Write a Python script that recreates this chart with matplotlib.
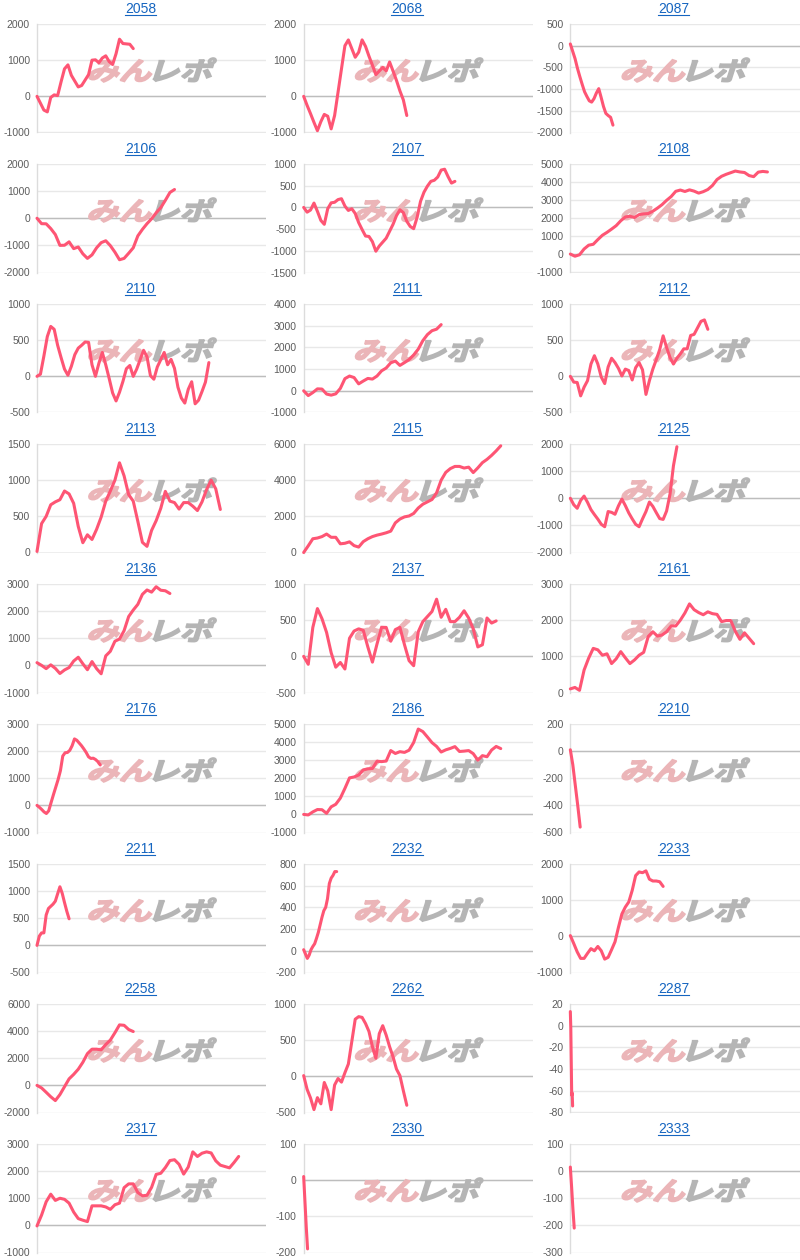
import numpy as np
import matplotlib
matplotlib.use("Agg")
import matplotlib.pyplot as plt
from matplotlib.font_manager import FontProperties
from matplotlib.textpath import TextPath
from matplotlib.patches import PathPatch
from matplotlib.transforms import Affine2D
from matplotlib.lines import Line2D

# --- datos: codigo, extension en x (% del ancho), valores, eje y (min, max, paso)
codes = ["2058", "2068", "2087", "2106", "2107", "2108", "2110", "2111", "2112",
         "2113", "2115", "2125", "2136", "2137", "2161", "2176", "2186", "2210",
         "2211", "2232", "2233", "2258", "2262", "2287", "2317", "2330", "2333"]

spans = [42, 45, 18.6, 60, 66, 86, 75, 60, 60,
         80, 86, 46.5, 58, 84, 80, 27.6, 86, 4.3,
         14, 14.4, 40.5, 42, 45, 1.0, 88, 1.7, 1.7]

v2058 = [0, -190, -380, -430, -30, 40, 20, 400, 760, 870, 580, 420, 260, 300, 450,
         600, 1000, 1010, 930, 1060, 1120, 960, 880, 1180, 1580, 1460, 1450, 1440, 1320]
v2068 = [0, -250, -480, -720, -950, -700, -500, -550, -900, -530, 115, 760, 1400, 1560,
         1320, 1080, 1220, 1560, 1380, 1110, 860, 600, 700, 800, 700, 950, 700, 440,
         150, -100, -530]
v2087 = [40, -130, -300, -520, -710, -890, -1060, -1170, -1270, -1300, -1220, -1090,
         -990, -1190, -1400, -1560, -1610, -1650, -1830]
v2106 = [0, -200, -205, -380, -600, -1000, -995, -870, -1120, -1060, -1310, -1480,
         -1350, -1090, -900, -830, -1010, -1250, -1530, -1480, -1290, -1090, -650,
         -410, -200, -20, 200, 390, 660, 950, 1060]
v2107 = [0, -110, -60, 100, -90, -300, -390, -30, 105, 118, 180, 200, 30, -70, -30,
         -140, -350, -510, -660, -670, -790, -1010, -890, -800, -710, -550, -390,
         -190, -55, -120, -320, -440, -490, -230, 140, 350, 490, 600, 625, 700, 860,
         880, 710, 560, 600]
v2108 = [20, -100, -20, 300, 510, 560, 820, 1060, 1220, 1400, 1590, 1860, 2070, 2110,
         2040, 2200, 2240, 2260, 2390, 2560, 2750, 2990, 3200, 3490, 3560, 3480, 3570,
         3500, 3390, 3470, 3590, 3810, 4140, 4320, 4430, 4520, 4610, 4560, 4530, 4360,
         4300, 4550, 4590, 4560]
v2110 = [0, 30, 280, 550, 690, 650, 430, 260, 100, 15, 140, 300, 390, 430, 475, 470,
         160, 0, 180, 330, 160, -30, -230, -340, -220, -70, 105, 150, 0, 100, 230, 360,
         270, 10, -40, 130, 230, 330, 160, 235, 110, -150, -300, -370, -180, -75, -380,
         -330, -210, -80, 190]
v2111 = [0, -220, -80, 90, 80, -150, -200, -140, 110, 560, 680, 610, 320, 450, 570,
         540, 680, 920, 1050, 1290, 1370, 1170, 1300, 1440, 1650, 1920, 2310, 2590,
         2770, 2840, 3050]
v2112 = [0, -80, -85, -270, -150, -60, 170, 285, 170, -10, -100, 130, 250, 190, 110, 5,
         100, 80, -50, 120, 190, 90, -250, -60, 100, 230, 370, 560, 400, 260, 170, 250,
         310, 380, 380, 565, 580, 670, 760, 780, 650]
v2113 = [15, 400, 500, 660, 700, 730, 850, 810, 680, 360, 135, 245, 180, 320, 490, 710,
         850, 1000, 1240, 1060, 800, 710, 430, 140, 85, 305, 440, 610, 845, 710, 690,
         600, 690, 690, 640, 580, 700, 870, 1000, 880, 595]
v2115 = [0, 370, 760, 800, 880, 1020, 840, 840, 480, 510, 590, 380, 300, 600, 760, 880,
         960, 1020, 1090, 1180, 1640, 1850, 1970, 2020, 2160, 2460, 2670, 2800, 2930,
         3300, 4000, 4430, 4640, 4760, 4760, 4670, 4720, 4420, 4680, 4970, 5150, 5370,
         5620, 5900]
v2125 = [0, -240, -370, -80, 80, -150, -420, -600, -770, -960, -1050, -490, -520, -590,
         -280, -30, -270, -540, -760, -960, -1050, -760, -490, -140, -300, -530, -750,
         -780, -470, 150, 1200, 1900]
v2136 = [100, 0, -120, 20, -110, -300, -170, -80, 160, 300, 60, -160, 140, -120, -310,
         350, 520, 890, 970, 1280, 1800, 2040, 2250, 2620, 2780, 2700, 2900, 2770,
         2750, 2650]
v2137 = [0, -110, 400, 660, 520, 330, 50, -150, -85, -175, 250, 350, 380, 360, 130,
         -80, 170, 400, 400, 210, 370, 400, 160, -60, -130, 340, 480, 550, 620, 790,
         540, 650, 480, 480, 540, 630, 530, 380, 130, 160, 530, 460, 490]
v2161 = [100, 140, 60, 620, 950, 1220, 1180, 1030, 1070, 800, 930, 1130, 960, 800, 900,
         1030, 1110, 1550, 1680, 1560, 1590, 1680, 1840, 1840, 2000, 2200, 2450, 2290,
         2210, 2150, 2230, 2180, 2160, 1960, 1990, 1990, 1690, 1470, 1650, 1500, 1350]
v2176 = [0, -70, -150, -240, -300, -200, 100, 390, 670, 950, 1280, 1820, 1940, 1950,
         2030, 2200, 2450, 2400, 2300, 2200, 2080, 1950, 1790, 1730, 1740, 1690, 1610,
         1490]
v2186 = [0, -30, 140, 270, 260, 60, 420, 560, 900, 1440, 2020, 2070, 2180, 2460, 2520,
         2540, 2940, 2920, 2950, 3530, 3370, 3470, 3430, 3550, 3980, 4720, 4580, 4280,
         3970, 3760, 3450, 3570, 3650, 3750, 3480, 3500, 3530, 3360, 3000, 3250, 3190,
         3560, 3760, 3640]
v2210 = [10, -100, -250, -400, -560]
v2211 = [0, 170, 230, 230, 560, 680, 720, 760, 815, 950, 1080, 960, 790, 630, 490]
v2232 = [10, -30, -70, -40, 10, 40, 65, 115, 170, 240, 310, 370, 400, 480, 620, 670,
         695, 730, 730]
v2233 = [20, -200, -430, -610, -610, -470, -340, -400, -280, -400, -630, -580, -370,
         -150, 250, 620, 810, 950, 1270, 1680, 1780, 1760, 1810, 1580, 1530, 1530, 1510,
         1380]
v2258 = [0, -190, -510, -840, -1120, -680, -100, 480, 810, 1190, 1700, 2340, 2670, 2670,
         2620, 3010, 3340, 3880, 4460, 4430, 4120, 3970]
v2262 = [10, -180, -300, -460, -295, -380, -85, -200, -460, -120, -30, -80, 50, 170, 480,
         790, 825, 815, 730, 620, 410, 250, 590, 700, 570, 410, 270, 100, 10, -200, -400]
v2287 = [13, -2, -34, -64, -62, -74]
v2317 = [-20, 380, 870, 1150, 920, 1000, 960, 820, 490, 250, 190, 140, 720, 720, 720,
         680, 590, 760, 820, 1390, 1530, 1530, 1210, 1090, 1110, 1400, 1880, 1920, 2130,
         2390, 2420, 2250, 1890, 2150, 2710, 2540, 2660, 2710, 2670, 2380, 2220, 2170,
         2120, 2320, 2540]
v2330 = [10, -60, -130, -190]
v2333 = [15, -60, -140, -210]

series = [v2058, v2068, v2087, v2106, v2107, v2108, v2110, v2111, v2112,
          v2113, v2115, v2125, v2136, v2137, v2161, v2176, v2186, v2210,
          v2211, v2232, v2233, v2258, v2262, v2287, v2317, v2330, v2333]

yaxes = [(-1000, 2000, 1000), (-1000, 2000, 1000), (-2000, 500, 500),
         (-2000, 2000, 1000), (-1500, 1000, 500), (-1000, 5000, 1000),
         (-500, 1000, 500), (-1000, 4000, 1000), (-500, 1000, 500),
         (0, 1500, 500), (0, 6000, 2000), (-2000, 2000, 1000),
         (-1000, 3000, 1000), (-500, 1000, 500), (0, 3000, 1000),
         (-1000, 3000, 1000), (-1000, 5000, 1000), (-600, 200, 200),
         (-500, 1500, 500), (-200, 800, 200), (-1000, 2000, 1000),
         (-2000, 6000, 2000), (-500, 1000, 500), (-80, 20, 20),
         (-1000, 3000, 1000), (-200, 100, 100), (-300, 100, 100)]

# --- figura
W, H = 800, 1260
PW, PH = W / 3, 140
plt.rcParams['font.family'] = ['Liberation Sans', 'DejaVu Sans']
fig = plt.figure(figsize=(W / 100, H / 100), dpi=100, facecolor='white')
px = Affine2D().scale(1 / W, 1 / H) + fig.transFigure   # pixeles, origen abajo-izq

# marca de agua
wm_font = FontProperties(family=['Noto Sans CJK JP'], weight='bold')
p_min = TextPath((0, 0), "みん", size=29, prop=wm_font)
p_rep = TextPath((0, 0), "レポ", size=29, prop=wm_font)
e1, e2 = p_min.get_extents(), p_rep.get_extents()
wm_w = e1.width + 3 + e2.width
wm_y0 = min(e1.y0, e2.y0)
wm_y1 = max(e1.y1, e2.y1)

titles = []
for i, code in enumerate(codes):
    r, c = divmod(i, 3)
    x0 = c * PW
    y0 = r * PH
    left = x0 + 37
    right = min(x0 + PW - 0.5, W)
    top = y0 + 24
    bottom = y0 + 132.5
    ax = fig.add_axes([left / W, 1 - bottom / H, (right - left) / W, (bottom - top) / H])

    vals = np.array(series[i], dtype=float)
    xs = np.linspace(0, spans[i], len(vals))
    ymin, ymax, ystep = yaxes[i]

    ax.plot(xs, vals, color='#fe5574', lw=2.2, solid_joinstyle='round',
            solid_capstyle='round', zorder=3, clip_on=False)
    ax.set_xlim(0, 100)
    ax.set_ylim(ymin, ymax)
    ticks = np.arange(ymin, ymax + ystep / 2, ystep)
    ax.set_yticks(ticks)
    ax.set_yticklabels([str(int(t)) for t in ticks])
    ax.set_xticks([])
    ax.grid(axis='y', color='#e8e8e8', lw=1.0)
    ax.set_axisbelow(True)
    if ymin <= 0 <= ymax:
        ax.axhline(0, color='#bdbdbd', lw=1.0, zorder=1)
    for s in ['top', 'right', 'bottom']:
        ax.spines[s].set_visible(False)
    ax.spines['left'].set_color('#dcdcdc')
    ax.spines['left'].set_linewidth(1.0)
    ax.tick_params(axis='y', length=0, pad=5, labelsize=7.5, labelcolor='#5c5c5c')

    # marca de agua "みんレポ"
    cx = x0 + 152
    cy = H - (y0 + 70)
    base = Affine2D().translate(-wm_w / 2, -(wm_y0 + wm_y1) / 2).skew_deg(14, 0) \
        .scale(1.12, 0.88).translate(cx, cy)
    t1 = Affine2D().translate(-e1.x0, 0) + base + px
    t2 = Affine2D().translate(e1.width + 3 - e2.x0, 0) + base + px
    ax.add_patch(PathPatch(p_min, transform=t1, facecolor='#ebb5b8', edgecolor='#ebb5b8',
                           lw=1.2, clip_on=False, zorder=2))
    ax.add_patch(PathPatch(p_rep, transform=t2, facecolor='#b5b5b5', edgecolor='#b5b5b5',
                           lw=1.2, clip_on=False, zorder=2))

    t = fig.text((x0 + PW / 2 + 7) / W, 1 - (y0 + 9) / H, code, ha='center',
                 va='center', fontsize=10, color='#1565c0')
    titles.append(t)

# subrayado de los titulos
fig.canvas.draw()
for t in titles:
    bb = t.get_window_extent()
    fig.add_artist(Line2D([bb.x0, bb.x1], [bb.y0 + 1.2] * 2, transform=px,
                          color='#1565c0', lw=0.8))

fig.savefig("out.png", dpi=100, facecolor='white')
plt.close(fig)
